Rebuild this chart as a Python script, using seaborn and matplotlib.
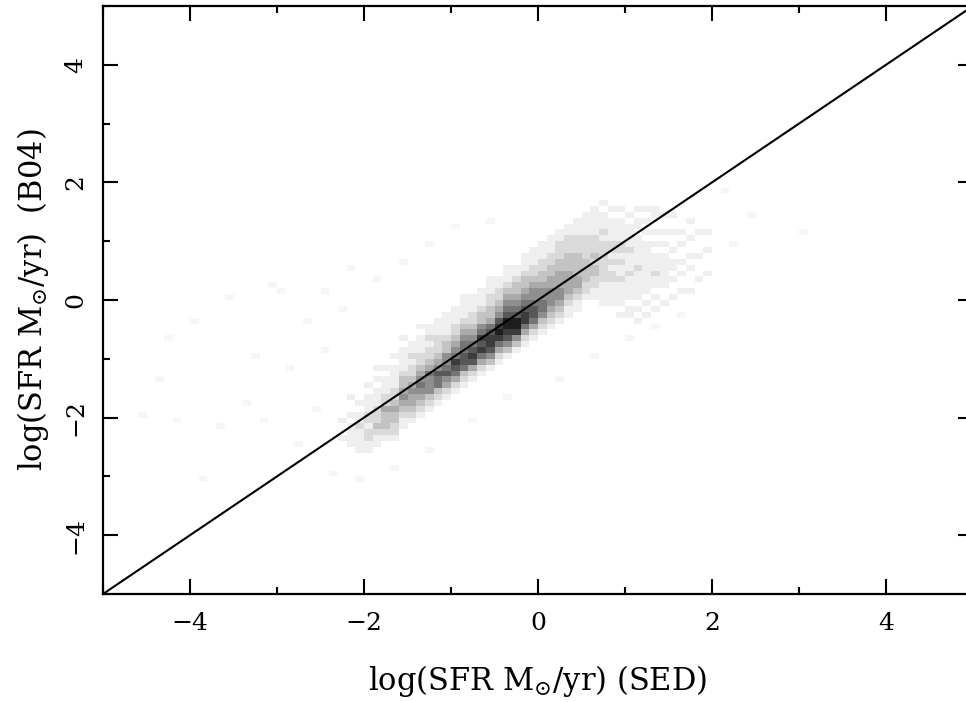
import numpy as np
import pandas as pd
import matplotlib
matplotlib.use("Agg")
import matplotlib.pyplot as plt
from matplotlib.ticker import MultipleLocator
from matplotlib.colors import LinearSegmentedColormap
import seaborn as sns

# ---- data -----------------------------------------------------------------
# 2-D histogram of log SFR (SED, x) vs log SFR (B04, y), 0.1 dex bins.
# Each column: x centre, y centre of its lowest listed cell, and the cell
# intensities (0-9, upward in y).
col_x = [-2.25, -2.15, -2.05, -1.95, -1.85, -1.75, -1.65, -1.55, -1.45, -1.35,
         -1.25, -1.15, -1.05, -0.95, -0.85, -0.75, -0.65, -0.55, -0.45, -0.35,
         -0.25, -0.15, -0.05, 0.05, 0.15, 0.25, 0.35, 0.45, 0.55, 0.65,
         0.75, 0.85, 0.95, 1.05, 1.15, 1.25, 1.35, 1.45, 1.55, 1.65,
         1.75, 1.85, 1.95]
col_y0 = [-2.35, -2.45, -2.55, -2.55, -2.55, -2.55, -2.45, -2.25, -2.15, -2.05,
          -1.95, -1.85, -1.75, -1.65, -1.55, -1.45, -1.35, -1.25, -1.15, -1.05,
          -0.95, -0.85, -0.75, -0.65, -0.55, -0.45, -0.35, -0.25, -0.15, -0.05,
          -0.15, -0.15, -0.25, -0.25, -0.35, -0.25, -0.15, -0.05, 0.05, 0.15,
          0.15, 0.35, 0.45]
col_vals = [
    "1001",
    "111101001",
    "111121101",
    "112212211101",
    "011232221110101",
    "001233342211101",
    "0122334322111101",
    "01123454332111101",
    "01234454322121100",
    "01234565432211101",
    "01235556432212110",
    "01236675432221110",
    "01245765533211110",
    "01246786543221110",
    "01236776654321111",
    "01247876543221110",
    "01246878653321110",
    "01357887643322111",
    "01246898754322110",
    "01357899765432111",
    "01358997654332110",
    "01246887654332111",
    "01246776554322111",
    "01235665543322111",
    "01234555443322111",
    "01234554443322211",
    "01123444433322211",
    "01123443333222111",
    "00122333322221111",
    "01122332322211111",
    "0111122222221211101",
    "011112212122111101",
    "1011112112122111101",
    "1101111211121111010",
    "10101111121111101101",
    "1010111111111010101",
    "101011211101010011",
    "1001111110101001",
    "100101101001001",
    "10010100101",
    "1000101001001",
    "100010001",
    "10001001",
]
# sparse, very faint single cells away from the main band
scatter_x = [-4.55, -4.35, -4.25, -4.15, -3.95, -3.85, -3.65, -3.55, -3.35, -3.25,
             -3.15, -3.05, -2.95, -2.85, -2.75, -2.65, -2.55, -2.45, -2.45, -2.35,
             -2.25, -2.15, -1.85, -1.55, -1.25, -0.95, -0.55, -2.05, -1.65, -1.25,
             -0.75, -0.35, 0.25, 0.65, 1.05, 1.35, 1.65, 2.25, 2.45, 2.15, 3.05]
scatter_y = [-1.95, -1.35, -0.65, -2.05, -0.35, -3.05, -2.15, 0.05, -1.75, -0.95,
             -2.05, 0.25, 0.15, -1.15, -2.45, -0.35, -1.85, -0.85, 0.15, -2.95,
             -0.15, 0.55, 0.35, 0.65, 0.95, 1.25, 1.35, -3.05, -2.85, -2.55,
             -2.05, -1.65, -1.35, -0.95, -0.65, -0.45, -0.25, 0.95, 1.45, 1.85, 1.15]
scatter_level = 0.6

# one-to-one relation
line_x = [-5, 5]
line_y = [-5, 5]

# ---- build the table ------------------------------------------------------
xs, ys, ws = [], [], []
for x, y0, s in zip(col_x, col_y0, col_vals):
    for i, ch in enumerate(s):
        v = int(ch)
        if v:
            xs.append(x)
            ys.append(y0 + 0.1 * i)
            ws.append(v)
for x, y in zip(scatter_x, scatter_y):
    xs.append(x)
    ys.append(y)
    ws.append(scatter_level)
df = pd.DataFrame({"x": xs, "y": ys, "w": ws})

# ---- style ----------------------------------------------------------------
sns.set_style("white")
plt.rcParams["font.family"] = ["DejaVu Serif"]
plt.rcParams["mathtext.fontset"] = "dejavuserif"
plt.rcParams["text.color"] = "black"
plt.rcParams["axes.labelcolor"] = "black"
plt.rcParams["xtick.color"] = "black"
plt.rcParams["ytick.color"] = "black"

# grey scale that keeps the faint cells light
grey_stops = [(1 - (i / 10) ** 1.2,) * 3 for i in range(11)]
cmap = LinearSegmentedColormap.from_list("pggrey", grey_stops)

fig = plt.figure(figsize=(9.66, 7.02), dpi=100)
ax = fig.add_axes([103 / 966, 108 / 702, 870 / 966, 588 / 702])

sns.histplot(data=df, x="x", y="y", weights="w", bins=100,
             binrange=((-5, 5), (-5, 5)), cmap=cmap,
             vmin=0, vmax=10, ax=ax)
sns.lineplot(x=line_x, y=line_y, color="black", lw=1.5, ax=ax)

ax.set_xlim(-5, 5)
ax.set_ylim(-5, 5)
ax.xaxis.set_major_locator(MultipleLocator(2))
ax.xaxis.set_minor_locator(MultipleLocator(1))
ax.yaxis.set_major_locator(MultipleLocator(2))
ax.yaxis.set_minor_locator(MultipleLocator(1))
ax.tick_params(which="both", direction="in", bottom=True, left=True,
               top=True, right=True, color="black", labelcolor="black",
               width=1.5, labelsize=18, pad=13)
ax.tick_params(which="major", length=11)
ax.tick_params(which="minor", length=5)
ax.tick_params(axis="y", labelrotation=90, pad=11)
for lab in ax.get_yticklabels():
    lab.set_va("center")
for sp in ax.spines.values():
    sp.set_linewidth(1.6)
    sp.set_color("black")

ax.set_xlabel(r"log(SFR M$_{\odot}$/yr) (SED)", fontsize=22, labelpad=20,
              color="black")
ax.set_ylabel(r"log(SFR M$_{\odot}$/yr)  (B04)", fontsize=22, labelpad=10,
              color="black")

fig.savefig("out.png", dpi=100)
